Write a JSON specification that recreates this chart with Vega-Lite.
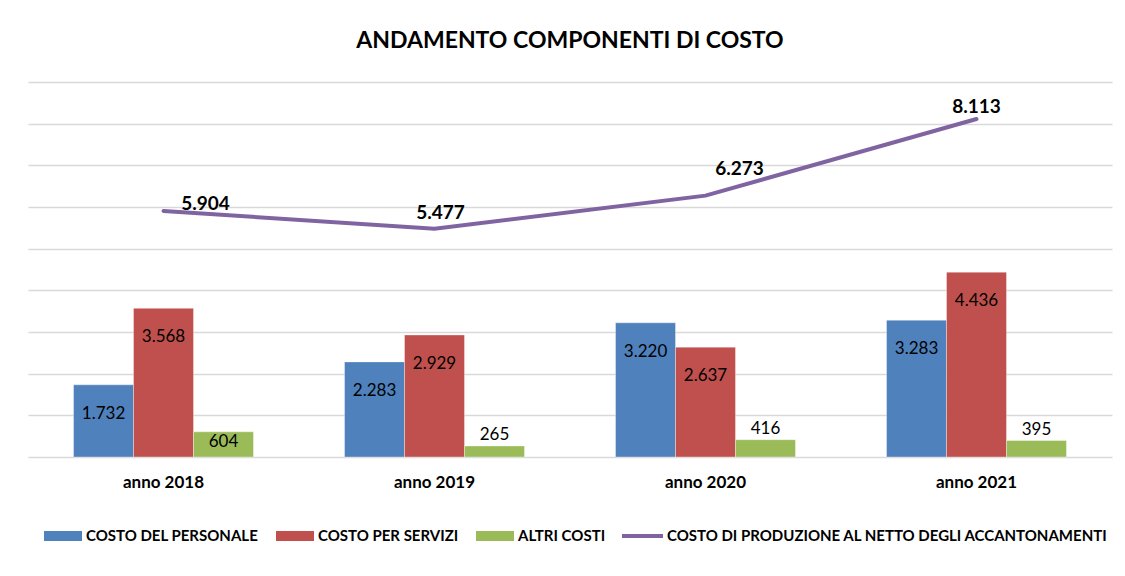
{
  "$schema": "https://vega.github.io/schema/vega-lite/v6.json",
  "width": 1084,
  "height": 375,
  "autosize": {"type": "none"},
  "padding": {"left": 28, "top": 82, "right": 13, "bottom": 119},
  "background": "white",
  "title": {"text": "ANDAMENTO COMPONENTI DI COSTO", "fontSize": 23, "font": "Lato", "fontWeight": "bold", "color": "#000000", "anchor": "middle", "offset": 29},
  "datasets": {
    "barre": [
      {"anno": "anno 2018", "serie": "COSTO DEL PERSONALE", "valore": 1732},
      {"anno": "anno 2018", "serie": "COSTO PER SERVIZI", "valore": 3568},
      {"anno": "anno 2018", "serie": "ALTRI COSTI", "valore": 604},
      {"anno": "anno 2019", "serie": "COSTO DEL PERSONALE", "valore": 2283},
      {"anno": "anno 2019", "serie": "COSTO PER SERVIZI", "valore": 2929},
      {"anno": "anno 2019", "serie": "ALTRI COSTI", "valore": 265},
      {"anno": "anno 2020", "serie": "COSTO DEL PERSONALE", "valore": 3220},
      {"anno": "anno 2020", "serie": "COSTO PER SERVIZI", "valore": 2637},
      {"anno": "anno 2020", "serie": "ALTRI COSTI", "valore": 416},
      {"anno": "anno 2021", "serie": "COSTO DEL PERSONALE", "valore": 3283},
      {"anno": "anno 2021", "serie": "COSTO PER SERVIZI", "valore": 4436},
      {"anno": "anno 2021", "serie": "ALTRI COSTI", "valore": 395}
    ],
    "linea": [
      {"anno": "anno 2018", "serie": "COSTO DI PRODUZIONE AL NETTO DEGLI ACCANTONAMENTI", "valore": 5904},
      {"anno": "anno 2019", "serie": "COSTO DI PRODUZIONE AL NETTO DEGLI ACCANTONAMENTI", "valore": 5477},
      {"anno": "anno 2020", "serie": "COSTO DI PRODUZIONE AL NETTO DEGLI ACCANTONAMENTI", "valore": 6273},
      {"anno": "anno 2021", "serie": "COSTO DI PRODUZIONE AL NETTO DEGLI ACCANTONAMENTI", "valore": 8113}
    ]
  },
  "encoding": {
    "x": {
      "field": "anno", "type": "nominal",
      "sort": ["anno 2018", "anno 2019", "anno 2020", "anno 2021"],
      "scale": {"paddingInner": 0.336, "paddingOuter": 0.168},
      "axis": {"title": null, "labelAngle": 0, "labelFont": "Lato", "labelFontSize": 17, "labelFontWeight": "bold", "labelColor": "#000000", "ticks": false, "domain": false, "grid": false, "labelPadding": 17}
    },
    "y": {
      "field": "valore", "type": "quantitative",
      "scale": {"domain": [0, 9000], "nice": false},
      "axis": {"title": null, "labels": false, "ticks": false, "domain": false, "grid": true, "values": [0, 1000, 2000, 3000, 4000, 5000, 6000, 7000, 8000, 9000], "gridColor": "#d9d9d9", "gridWidth": 1.5}
    }
  },
  "layer": [
    {
      "data": {"name": "barre"},
      "mark": {"type": "bar", "stroke": "#ffffff", "strokeWidth": 0.6, "strokeOpacity": 0.6},
      "encoding": {
        "xOffset": {"field": "serie", "type": "nominal", "sort": ["COSTO DEL PERSONALE", "COSTO PER SERVIZI", "ALTRI COSTI"], "scale": {"paddingInner": 0, "paddingOuter": 0}},
        "color": {
          "field": "serie", "type": "nominal",
          "sort": ["COSTO DEL PERSONALE", "COSTO PER SERVIZI", "ALTRI COSTI"],
          "scale": {
            "domain": ["COSTO DEL PERSONALE", "COSTO PER SERVIZI", "ALTRI COSTI"],
            "range": ["#4F81BD", "#C0504D", "#9BBB59"]
          },
          "legend": {
            "title": null, "orient": "none", "legendX": 16, "legendY": 435, "direction": "horizontal", "columns": 3,
            "labelFont": "Lato", "labelFontSize": 15, "labelFontWeight": "bold", "labelColor": "#000000", "labelLimit": 600,
            "symbolType": "M-1,-0.26H1V0.26H-1Z", "symbolSize": 1444, "symbolStrokeWidth": 0, "symbolOpacity": 1,
            "columnPadding": 17, "labelOffset": 4
          }
        }
      }
    },
    {
      "data": {"name": "barre"},
      "transform": [{"filter": "datum.valore >= 1000"}],
      "mark": {"type": "text", "baseline": "middle", "dy": 29, "font": "Lato", "fontSize": 17, "color": "#000000"},
      "encoding": {
        "xOffset": {"field": "serie", "type": "nominal", "sort": ["COSTO DEL PERSONALE", "COSTO PER SERVIZI", "ALTRI COSTI"]},
        "text": {"field": "valore", "type": "quantitative", "format": ",d"}
      }
    },
    {
      "data": {"name": "barre"},
      "transform": [{"filter": "datum.valore >= 500 && datum.valore < 1000"}],
      "mark": {"type": "text", "baseline": "middle", "dy": 10, "font": "Lato", "fontSize": 17, "color": "#000000"},
      "encoding": {
        "xOffset": {"field": "serie", "type": "nominal", "sort": ["COSTO DEL PERSONALE", "COSTO PER SERVIZI", "ALTRI COSTI"]},
        "text": {"field": "valore", "type": "quantitative", "format": ",d"}
      }
    },
    {
      "data": {"name": "barre"},
      "transform": [{"filter": "datum.valore < 500"}],
      "mark": {"type": "text", "baseline": "middle", "dy": -11, "font": "Lato", "fontSize": 17, "color": "#000000"},
      "encoding": {
        "xOffset": {"field": "serie", "type": "nominal", "sort": ["COSTO DEL PERSONALE", "COSTO PER SERVIZI", "ALTRI COSTI"]},
        "text": {"field": "valore", "type": "quantitative", "format": ",d"}
      }
    },
    {
      "data": {"name": "linea"},
      "mark": {"type": "line", "strokeWidth": 4, "strokeCap": "round"},
      "encoding": {
        "color": {
          "field": "serie", "type": "nominal",
          "scale": {"range": ["#8064A2"]},
          "legend": {
            "title": null, "orient": "none", "legendX": 592, "legendY": 431.5,
            "labelFont": "Lato", "labelFontSize": 15, "labelFontWeight": "bold", "labelColor": "#000000", "labelLimit": 700,
            "symbolType": "stroke", "symbolSize": 1681, "symbolStrokeWidth": 4, "labelOffset": 2
          }
        }
      }
    },
    {
      "data": {"name": "linea"},
      "transform": [{"filter": "datum.anno === 'anno 2018'"}],
      "mark": {"type": "text", "baseline": "middle", "dx": 42, "dy": -7, "font": "Lato", "fontSize": 19, "fontWeight": "bold", "color": "#000000"},
      "encoding": {"text": {"field": "valore", "type": "quantitative", "format": ",d"}}
    },
    {
      "data": {"name": "linea"},
      "transform": [{"filter": "datum.anno === 'anno 2019'"}],
      "mark": {"type": "text", "baseline": "middle", "dx": 6, "dy": -16, "font": "Lato", "fontSize": 19, "fontWeight": "bold", "color": "#000000"},
      "encoding": {"text": {"field": "valore", "type": "quantitative", "format": ",d"}}
    },
    {
      "data": {"name": "linea"},
      "transform": [{"filter": "datum.anno === 'anno 2020'"}],
      "mark": {"type": "text", "baseline": "middle", "dx": 34, "dy": -27, "font": "Lato", "fontSize": 19, "fontWeight": "bold", "color": "#000000"},
      "encoding": {"text": {"field": "valore", "type": "quantitative", "format": ",d"}}
    },
    {
      "data": {"name": "linea"},
      "transform": [{"filter": "datum.anno === 'anno 2021'"}],
      "mark": {"type": "text", "baseline": "middle", "dx": 0, "dy": -12, "font": "Lato", "fontSize": 19, "fontWeight": "bold", "color": "#000000"},
      "encoding": {"text": {"field": "valore", "type": "quantitative", "format": ",d"}}
    }
  ],
  "resolve": {"scale": {"color": "independent"}},
  "config": {
    "view": {"stroke": null},
    "locale": {"number": {"decimal": ",", "thousands": ".", "grouping": [3], "currency": ["€", ""]}}
  }
}
